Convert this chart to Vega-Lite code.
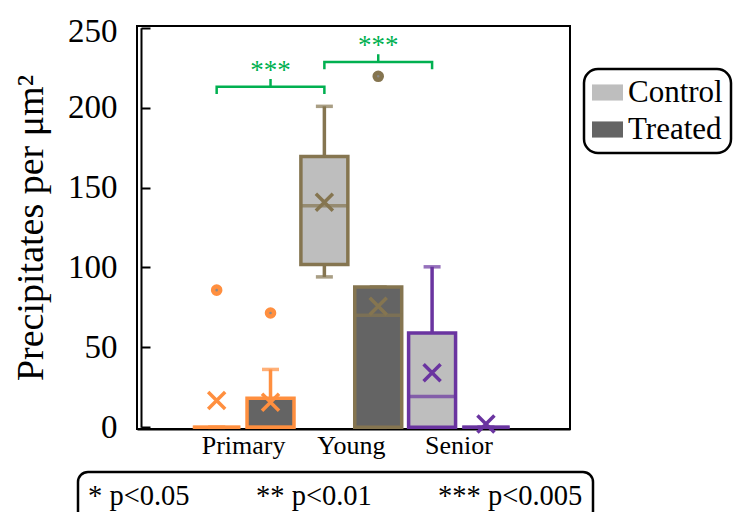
{
  "$schema": "https://vega.github.io/schema/vega-lite/v6.json",
  "width": 433,
  "height": 403,
  "autosize": {"type": "none"},
  "padding": {"left": 137, "top": 26, "right": 167, "bottom": 83},
  "background": "white",
  "config": {
    "view": {"stroke": "black", "strokeWidth": 2},
    "font": "Liberation Serif",
    "axis": {"labelFont": "Liberation Serif", "titleFont": "Liberation Serif", "labelColor": "black", "titleColor": "black", "grid": false},
    "legend": {"labelFont": "Liberation Serif", "titleFont": "Liberation Serif", "labelColor": "black", "strokeWidth": 2.5}
  },
  "datasets": {
    "boxes": [
      {"group": "Primary", "treatment": "Control", "lower": 0, "q1": 0, "median": 0, "q3": 0, "upper": 0, "mean": 16.7},
      {"group": "Primary", "treatment": "Treated", "lower": 0, "q1": 0, "median": 0, "q3": 18.2, "upper": 36.2, "mean": 15.7},
      {"group": "Young", "treatment": "Control", "lower": 94.1, "q1": 101.9, "median": 138.6, "q3": 169.4, "upper": 200.8, "mean": 140.8},
      {"group": "Young", "treatment": "Treated", "lower": 0, "q1": 0, "median": 70.1, "q3": 87.8, "upper": 87.8, "mean": 75.7},
      {"group": "Senior", "treatment": "Control", "lower": 0, "q1": 0, "median": 19.3, "q3": 59, "upper": 100.4, "mean": 34.1},
      {"group": "Senior", "treatment": "Treated", "lower": 0, "q1": 0, "median": 0, "q3": 0, "upper": 0, "mean": 2}
    ],
    "outliers": [
      {"group": "Primary", "treatment": "Control", "value": 85.8},
      {"group": "Primary", "treatment": "Treated", "value": 71.5},
      {"group": "Young", "treatment": "Treated", "value": 219.6}
    ],
    "brackets": [
      {"bracket": "A", "k": 0, "group": "Primary", "treatment": "Control", "y": 208.5},
      {"bracket": "A", "k": 1, "group": "Primary", "treatment": "Control", "y": 213.1},
      {"bracket": "A", "k": 2, "group": "Young", "treatment": "Control", "y": 213.1},
      {"bracket": "A", "k": 3, "group": "Young", "treatment": "Control", "y": 208.5},
      {"bracket": "B", "k": 0, "group": "Young", "treatment": "Control", "y": 224},
      {"bracket": "B", "k": 1, "group": "Young", "treatment": "Control", "y": 228.5},
      {"bracket": "B", "k": 2, "group": "Senior", "treatment": "Control", "y": 228.5},
      {"bracket": "B", "k": 3, "group": "Senior", "treatment": "Control", "y": 224}
    ],
    "bmarks": [
      {"group": "Primary", "treatment": "Treated", "y": 213.1, "y2": 217.9, "label": "***"},
      {"group": "Young", "treatment": "Treated", "y": 228.5, "y2": 233.4, "label": "***"}
    ],
    "sig": [
      {"sig": "* p<0.05"},
      {"sig": "** p<0.01"},
      {"sig": "*** p<0.005"}
    ]
  },
  "resolve": {"scale": {"color": "shared"}},
  "layer": [
    {
      "data": {"name": "boxes"},
      "encoding": {
        "x": {"field": "group", "type": "nominal", "sort": ["Primary", "Young", "Senior"],
          "scale": {"domain": ["Primary", "Young", "Senior"], "paddingInner": 0, "paddingOuter": 0.51, "align": 0.48},
          "axis": {"title": null, "ticks": false, "domain": true, "domainColor": "black", "domainWidth": 2, "labelFontSize": 26, "labelPadding": 3, "labelAngle": 0}},
        "xOffset": {"field": "treatment", "type": "nominal", "scale": {"domain": ["Control", "Treated"], "paddingInner": 0.128, "paddingOuter": 0.064}},
        "y": {"field": "q3", "type": "quantitative",
          "scale": {"domain": [0, 250], "range": [401.3, 1.7], "nice": false, "zero": true},
          "axis": {"title": "Precipitates per μm²", "titleFontSize": 38, "titleFontWeight": "normal", "titlePadding": 17,
            "values": [0, 50, 100, 150, 200, 250], "labelFontSize": 33, "labelPadding": 33, "tickSize": -9, "tickWidth": 2, "tickColor": "black",
            "domainColor": "black", "domainWidth": 2, "offset": -4,
            "labelOffset": {"condition": {"test": "datum.value == 250", "value": 4}, "value": 0}}},
        "y2": {"field": "upper"},
        "color": {"field": "group", "type": "nominal", "scale": {"domain": ["Primary", "Young", "Senior"], "range": ["#FF8F3F", "#857550", "#6A34A0"]}, "legend": null}
      },
      "mark": {"type": "rule", "strokeWidth": 3.5}
    },
    {
      "data": {"name": "boxes"},
      "encoding": {
        "x": {"field": "group", "type": "nominal", "sort": ["Primary", "Young", "Senior"]},
        "xOffset": {"field": "treatment", "type": "nominal"},
        "y": {"field": "lower", "type": "quantitative"},
        "y2": {"field": "q1"},
        "color": {"field": "group", "type": "nominal", "legend": null}
      },
      "mark": {"type": "rule", "strokeWidth": 3.5}
    },
    {
      "data": {"name": "boxes"},
      "encoding": {
        "x": {"field": "group", "type": "nominal", "sort": ["Primary", "Young", "Senior"]},
        "xOffset": {"field": "treatment", "type": "nominal"},
        "y": {"field": "upper", "type": "quantitative"},
        "color": {"field": "group", "type": "nominal", "legend": null}
      },
      "mark": {"type": "tick", "size": 17, "thickness": 3.5, "orient": "horizontal"}
    },
    {
      "data": {"name": "boxes"},
      "encoding": {
        "x": {"field": "group", "type": "nominal", "sort": ["Primary", "Young", "Senior"]},
        "xOffset": {"field": "treatment", "type": "nominal"},
        "y": {"field": "lower", "type": "quantitative"},
        "color": {"field": "group", "type": "nominal", "legend": null}
      },
      "mark": {"type": "tick", "size": 17, "thickness": 3.5, "orient": "horizontal"}
    },
    {
      "data": {"name": "boxes"},
      "encoding": {
        "x": {"field": "group", "type": "nominal", "sort": ["Primary", "Young", "Senior"]},
        "xOffset": {"field": "treatment", "type": "nominal"},
        "y": {"field": "q1", "type": "quantitative"},
        "y2": {"field": "q3"},
        "fill": {"field": "treatment", "type": "nominal", "scale": {"domain": ["Control", "Treated"], "range": ["#BEBEBE", "#646464"]},
          "legend": {"title": null, "orient": "none", "legendX": 447, "legendY": 43, "labelFontSize": 31, "labelOffset": 5, "rowPadding": 5,
            "symbolType": "M-1,-0.52L1,-0.52L1,0.52L-1,0.52Z", "symbolSize": 961, "symbolStrokeWidth": 0, "symbolStrokeColor": "transparent",
            "padding": 8, "strokeColor": "black", "cornerRadius": 14,
            "encode": {"legend": {"update": {"strokeWidth": {"value": 2.5}}}}}},
        "stroke": {"field": "group", "type": "nominal", "scale": {"domain": ["Primary", "Young", "Senior"], "range": ["#FF8F3F", "#857550", "#6A34A0"]}, "legend": null}
      },
      "mark": {"type": "bar", "strokeWidth": 3.5, "fillOpacity": 1}
    },
    {
      "data": {"name": "boxes"},
      "encoding": {
        "x": {"field": "group", "type": "nominal", "sort": ["Primary", "Young", "Senior"]},
        "xOffset": {"field": "treatment", "type": "nominal"},
        "y": {"field": "median", "type": "quantitative"},
        "color": {"field": "group", "type": "nominal", "legend": null}
      },
      "mark": {"type": "tick", "size": 48, "thickness": 3.5, "orient": "horizontal"}
    },
    {
      "data": {"name": "boxes"},
      "encoding": {
        "x": {"field": "group", "type": "nominal", "sort": ["Primary", "Young", "Senior"]},
        "xOffset": {"field": "treatment", "type": "nominal"},
        "y": {"field": "mean", "type": "quantitative"},
        "color": {"field": "group", "type": "nominal", "legend": null}
      },
      "mark": {"type": "point", "shape": "M-1,-1L1,1M1,-1L-1,1", "size": 289, "strokeWidth": 3.5, "filled": false, "opacity": 1}
    },
    {
      "data": {"name": "outliers"},
      "encoding": {
        "x": {"field": "group", "type": "nominal", "sort": ["Primary", "Young", "Senior"]},
        "xOffset": {"field": "treatment", "type": "nominal"},
        "y": {"field": "value", "type": "quantitative"},
        "stroke": {"field": "group", "type": "nominal", "legend": null}
      },
      "mark": {"type": "point", "shape": "circle", "size": 50, "strokeWidth": 4.5, "fill": "#8A8A8A", "filled": true, "fillOpacity": 1, "strokeOpacity": 1, "opacity": 1}
    },
    {
      "data": {"name": "brackets"},
      "encoding": {
        "x": {"field": "group", "type": "nominal", "sort": ["Primary", "Young", "Senior"]},
        "xOffset": {"field": "treatment", "type": "nominal"},
        "y": {"field": "y", "type": "quantitative"},
        "detail": {"field": "bracket"},
        "order": {"field": "k", "type": "quantitative"}
      },
      "mark": {"type": "line", "color": "#00B050", "strokeWidth": 2.5}
    },
    {
      "data": {"name": "bmarks"},
      "encoding": {
        "x": {"field": "group", "type": "nominal", "sort": ["Primary", "Young", "Senior"]},
        "xOffset": {"field": "treatment", "type": "nominal"},
        "y": {"field": "y", "type": "quantitative"},
        "y2": {"field": "y2"}
      },
      "mark": {"type": "rule", "color": "#00B050", "strokeWidth": 2.5}
    },
    {
      "data": {"name": "bmarks"},
      "encoding": {
        "x": {"field": "group", "type": "nominal", "sort": ["Primary", "Young", "Senior"]},
        "xOffset": {"field": "treatment", "type": "nominal"},
        "y": {"field": "y2", "type": "quantitative"},
        "text": {"field": "label"}
      },
      "mark": {"type": "text", "color": "#00B050", "font": "Liberation Serif", "fontSize": 27, "baseline": "alphabetic", "align": "center"}
    },
    {
      "data": {"name": "sig"},
      "encoding": {
        "shape": {"field": "sig", "type": "nominal", "sort": null,
          "legend": {"title": null, "orient": "none", "direction": "horizontal", "columns": 3, "legendX": -59, "legendY": 446,
            "labelFontSize": 28.5, "labelOffset": -28.5, "symbolSize": 1, "symbolOpacity": 0, "symbolStrokeWidth": 0, "columnPadding": 66,
            "padding": 10, "strokeColor": "black", "cornerRadius": 10,
            "encode": {"legend": {"update": {"strokeWidth": {"value": 2.5}, "stroke": {"value": "black"}}},
                       "symbols": {"update": {"size": {"value": 1}, "opacity": {"value": 0}}}}}}
      },
      "mark": {"type": "point", "opacity": 0, "size": 1}
    }
  ]
}
